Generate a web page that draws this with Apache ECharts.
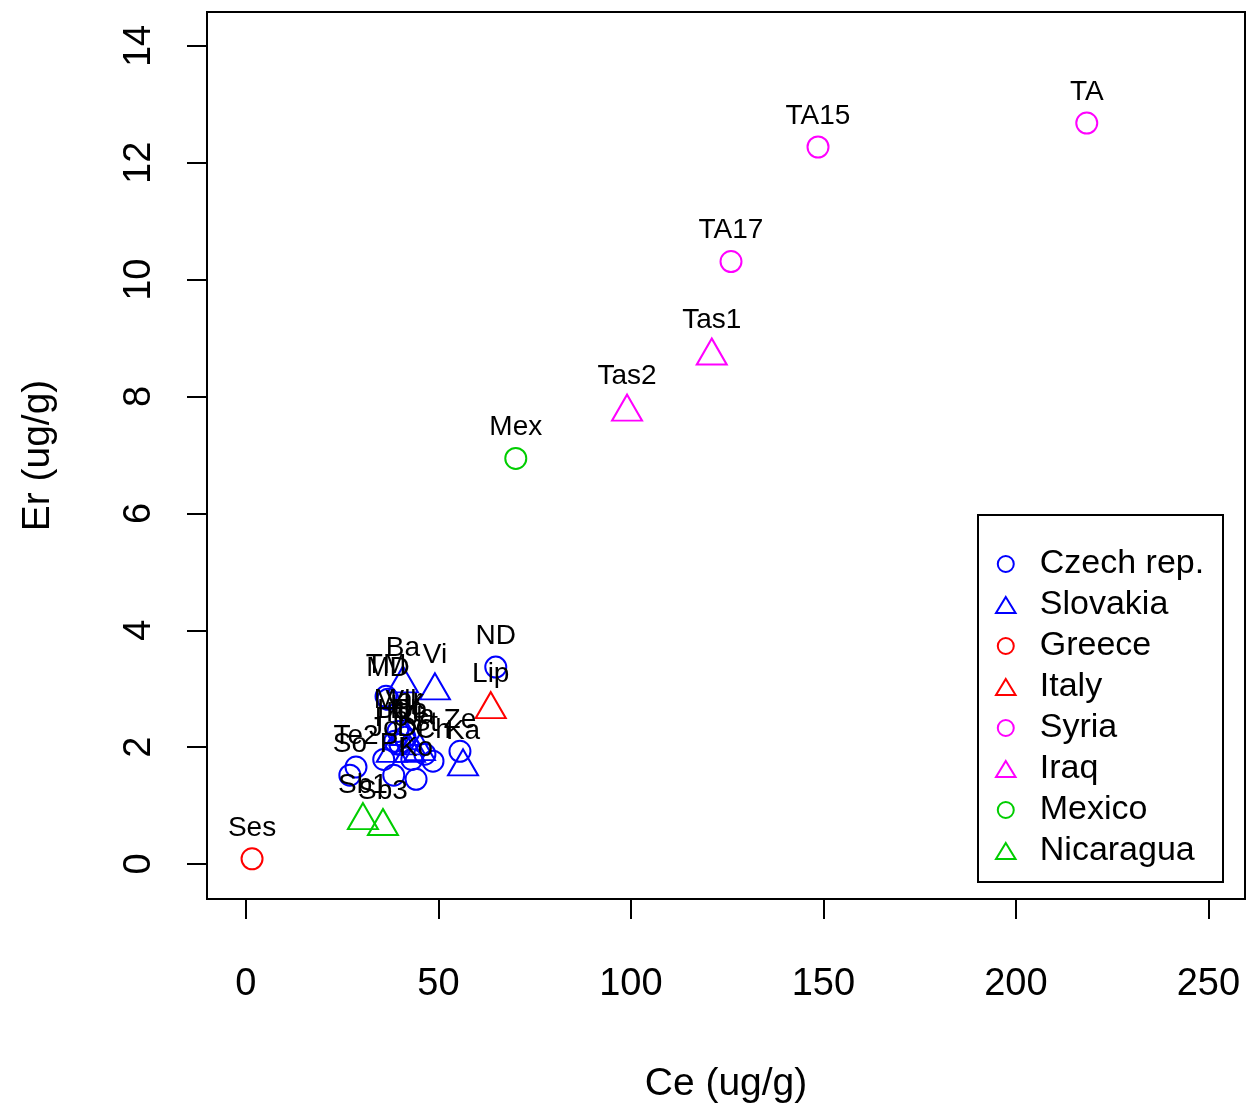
<!DOCTYPE html>
<html>
<head>
<meta charset="utf-8">
<script src="https://cdn.jsdelivr.net/npm/echarts@6/dist/echarts.min.js"></script>
<style>
html,body{margin:0;padding:0;background:#fff;}
#chart{width:1246px;height:1109px;}
</style>
</head>
<body>
<div id="chart"></div>
<script>
// Data: [Ce, Er, label]
const czech = [
  [64.9, 3.37, 'ND'], [36.9, 2.82, 'MD'], [36.4, 2.87, 'TM'], [28.6, 1.66, 'Te2'],
  [27.0, 1.52, 'So'], [55.6, 1.93, 'Ze'], [48.6, 1.76, 'Ch'], [44.2, 1.45, 'Ko'],
  [38.4, 1.52, 'Pr'], [35.8, 1.79, 'Jo'], [40.0, 2.05, 'Kr'], [41.3, 2.17, 'Hr'],
  [39.5, 2.27, 'Mar'], [46.5, 1.88, 'St'], [43.1, 1.79, 'Dr'], [38.7, 2.10, 'Ho']
];
const slovakia = [
  [40.8, 3.16, 'Ba'], [49.1, 3.04, 'Vi'], [56.4, 1.74, 'Ka'],
  [42.6, 2.10, 'Bo'], [45.2, 2.00, 'Ja'], [37.9, 1.97, 'Po'],
  [41.3, 2.26, 'Vlk'], [42.6, 1.97, 'Kl']
];
const greece = [[1.6, 0.09, 'Ses']];
const italy = [[63.6, 2.72, 'Lip']];
const syria = [[126.0, 10.31, 'TA17'], [148.6, 12.27, 'TA15'], [218.4, 12.68, 'TA']];
const iraq = [[99.0, 7.81, 'Tas2'], [121.0, 8.77, 'Tas1']];
const mexico = [[70.1, 6.94, 'Mex']];
const nicaragua = [[30.4, 0.82, 'Sb1'], [35.6, 0.72, 'Sb3']];

const xTicks = [0, 50, 100, 150, 200, 250];
const yTicks = [0, 2, 4, 6, 8, 10, 12, 14];

const FONT = '"Liberation Sans", Arial, sans-serif';
const BLUE = '#0000FF', RED = '#FF0000', MAG = '#FF00FF', GRN = '#00CD00';
const TRI_ICON = 'path://M11,0 L22,18 L0,18 Z';

function mk(name, data, color, shape) {
  const tri = shape === 'triangle';
  return {
    name: name, type: 'scatter', data: data,
    symbol: shape,
    symbolSize: tri ? [30, 26] : 21,
    itemStyle: { color: 'transparent', borderColor: color, borderWidth: 2, opacity: 1 },
    label: {
      show: true, position: 'inside', offset: [0, -31],
      formatter: p => p.value[2],
      color: '#000', fontSize: 28, fontFamily: FONT, textBorderWidth: 0
    },
    emphasis: { disabled: true },
    z: 3
  };
}

const chart = echarts.init(document.getElementById('chart'));
chart.setOption({
  animation: false,
  backgroundColor: '#fff',
  grid: { left: 207, right: 1, top: 12, bottom: 209, show: true, borderColor: '#000', borderWidth: 2, backgroundColor: 'transparent' },
  xAxis: {
    type: 'value', min: -10.1, max: 259.5,
    name: 'Ce (ug/g)', nameLocation: 'middle', nameGap: 166,
    nameTextStyle: { fontSize: 39, fontFamily: FONT, color: '#000' },
    axisLine: { show: false, onZero: false },
    splitLine: { show: false },
    axisTick: { show: true, length: 20, lineStyle: { color: '#000', width: 2 }, customValues: xTicks },
    axisLabel: { fontSize: 38, fontFamily: FONT, color: '#000', margin: 67, customValues: xTicks }
  },
  yAxis: {
    type: 'value', min: -0.598, max: 14.58,
    name: 'Er (ug/g)', nameLocation: 'middle', nameGap: 149, nameRotate: 90,
    nameTextStyle: { fontSize: 39, fontFamily: FONT, color: '#000' },
    axisLine: { show: false, onZero: false },
    splitLine: { show: false },
    axisTick: { show: true, length: 20, lineStyle: { color: '#000', width: 2 }, customValues: yTicks },
    axisLabel: { fontSize: 38, fontFamily: FONT, color: '#000', margin: 48, rotate: 90, customValues: yTicks }
  },
  legend: {
    orient: 'vertical', left: 990, top: 541,
    itemWidth: 34, itemHeight: 16, itemGap: 5,
    textStyle: { fontSize: 34, fontFamily: FONT, color: '#000', lineHeight: 36, padding: [0, 0, 0, 12] },
    data: [
      { name: 'Czech rep.', icon: 'circle' },
      { name: 'Slovakia', icon: TRI_ICON },
      { name: 'Greece', icon: 'circle' },
      { name: 'Italy', icon: TRI_ICON },
      { name: 'Syria', icon: 'circle' },
      { name: 'Iraq', icon: TRI_ICON },
      { name: 'Mexico', icon: 'circle' },
      { name: 'Nicaragua', icon: TRI_ICON }
    ]
  },
  graphic: [{
    type: 'rect', shape: { x: 978, y: 515, width: 245, height: 367 },
    style: { fill: 'transparent', stroke: '#000', lineWidth: 2 }, z: 10
  }],
  series: [
    mk('Czech rep.', czech, BLUE, 'circle'),
    mk('Slovakia', slovakia, BLUE, 'triangle'),
    mk('Greece', greece, RED, 'circle'),
    mk('Italy', italy, RED, 'triangle'),
    mk('Syria', syria, MAG, 'circle'),
    mk('Iraq', iraq, MAG, 'triangle'),
    mk('Mexico', mexico, GRN, 'circle'),
    mk('Nicaragua', nicaragua, GRN, 'triangle')
  ]
});
</script>
</body>
</html>
